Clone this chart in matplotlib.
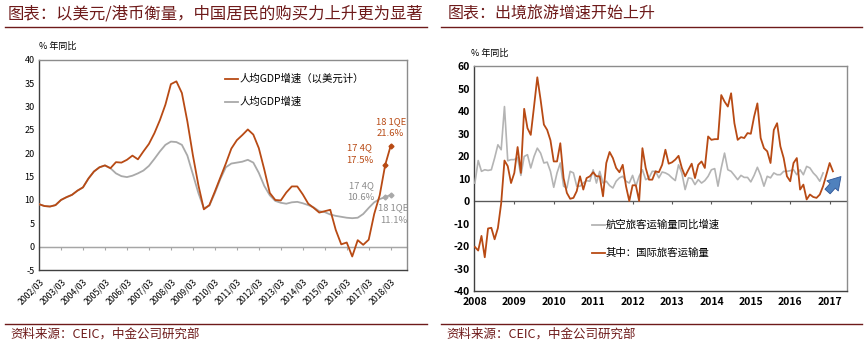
import numpy as np
import matplotlib.pyplot as plt

plt.rcParams["font.family"] = ["Noto Sans CJK SC", "DejaVu Sans"]
plt.rcParams["axes.unicode_minus"] = False

DARK_RED = "#6E1A1A"
ORANGE = "#B84A14"
GRAY = "#A9A9A9"

# 左图：季度数据 2002Q1 - 2018Q1
gdp_usd = [9.1, 8.7, 8.6, 8.9, 10.0, 10.6, 11.1, 12.0, 12.7, 14.6, 16.1, 17.0, 17.4, 16.8,
           18.1, 18.0, 18.6, 19.5, 18.7, 20.4, 22.0, 24.3, 27.1, 30.4, 34.8, 35.4, 32.9, 26.8,
           19.6, 13.2, 8.0, 8.9, 11.8, 14.8, 17.8, 21.0, 22.8, 23.9, 25.1, 24.0, 21.1, 16.5,
           11.5, 10.0, 9.9, 11.6, 12.9, 12.9, 11.2, 9.2, 8.3, 7.3, 7.6, 7.9, 3.6, 0.5,
           0.9, -2.1, 1.4, 0.4, 1.5, 7.0, 11.0, 17.5, 21.6]
gdp = [9.1, 8.7, 8.6, 8.9, 10.0, 10.6, 11.1, 12.0, 12.7, 14.6, 16.1, 17.0, 17.4, 16.8,
       15.7, 15.1, 14.9, 15.2, 15.7, 16.3, 17.3, 18.8, 20.4, 21.8, 22.5, 22.4, 21.8, 19.5,
       15.5, 11.5, 8.2, 8.8, 11.5, 14.5, 17.0, 17.8, 18.0, 18.2, 18.6, 18.0, 15.8, 13.0,
       11.0, 9.8, 9.4, 9.2, 9.5, 9.6, 9.3, 8.9, 8.4, 7.6, 7.4, 6.9, 6.6, 6.4,
       6.2, 6.1, 6.2, 7.0, 8.3, 9.5, 10.2, 10.6, 11.1]
quarter_labels = [f"{y}/03" for y in range(2002, 2019)]

# 右图：月度数据 2008/01 起
intl_pax = [-20.4, -22, -15.5, -25, -12.2, -11.9, -17, -12, -1, 18,
            15.5, 8, 12.5, 24, 12.5, 41, 32.4, 29.4, 42, 55,
            45, 34, 31.6, 27, 17.6, 17.6, 25.7, 10.2, 3.6, 1,
            1.4, 4.4, 11, 5.1, 10.2, 11, 12.8, 11, 11, 2.1,
            16.9, 21.8, 19.1, 14.7, 12.8, 16.1, 6.6, 0, 7, 7,
            0, 23.5, 14.7, 9.5, 9.5, 13.2, 12.8, 16.1, 22.8, 16.6,
            17.2, 18.4, 20.1, 14.7, 11, 13.9, 16.6, 10.2, 16.1, 17.6,
            14.7, 28.7, 27.2, 27.5, 27.5, 47.1, 44.2, 42, 47.9, 34.6,
            27.2, 28.4, 28, 30.2, 29.9, 37.5, 43.4, 28, 23.5, 22.1,
            16.9, 31.6, 34.6, 24.3, 19.1, 11, 8.8, 16.9, 19.1, 5.1,
            7.3, 0.7, 2.9, 1.8, 1.4, 2.9, 6.6, 11.7, 16.9, 13.2]
air_pax = [8, 18, 13.2, 13.9, 13.6, 13.9, 19.1, 25, 22.8, 42,
           17.9, 18.4, 18.4, 19.4, 11.4, 19.8, 20.6, 14.7, 19.8, 23.5,
           21.3, 16.9, 17.3, 13.2, 6.1, 12.5, 16.9, 6.6, 5.8, 13.2,
           12.5, 6.6, 6.6, 8.0, 9.1, 8.8, 13.9, 8, 13.2, 8,
           8.8, 6.9, 5.8, 8.8, 10.3, 11, 8.8, 8, 11.4, 6.6,
           11, 13.9, 9.5, 10.3, 13.2, 13.2, 10.3, 12.9, 12.5, 11.7,
           10.3, 9.1, 16.1, 12.5, 5.1, 10.3, 10, 7.3, 9.5, 8,
           9.1, 11, 13.9, 14.4, 6.6, 14.7, 21.3, 13.9, 13.2, 11.4,
           9.5, 11.4, 10.5, 10.5, 8.5, 11.4, 15, 11.4, 6.6, 11,
           10.3, 12.5, 11.7, 11.7, 13.2, 13.2, 13.5, 13.9, 11.7, 13.9,
           11.7, 15.4, 14.7, 12.5, 11, 8.8, 12.5]
years = list(range(2008, 2018))

fig = plt.figure(figsize=(8.67, 3.44), dpi=100)

# 标题与装饰线
fig.text(0.009, 0.959, "图表：以美元/港币衡量，中国居民的购买力上升更为显著",
         color=DARK_RED, fontsize=11.8, va="center", ha="left")
fig.text(0.516, 0.959, "图表：出境旅游增速开始上升",
         color=DARK_RED, fontsize=11.5, va="center", ha="left")
for x0, x1 in [(0.006, 0.493), (0.509, 0.994)]:
    fig.add_artist(plt.Line2D([x0, x1], [0.921, 0.921], color=DARK_RED, lw=1.0))
    fig.add_artist(plt.Line2D([x0, x1], [0.058, 0.058], color=DARK_RED, lw=1.0))
fig.text(0.012, 0.028, "资料来源：CEIC，中金公司研究部", color=DARK_RED, fontsize=9,
         va="center", ha="left", style="italic")
fig.text(0.515, 0.028, "资料来源：CEIC，中金公司研究部", color=DARK_RED, fontsize=9,
         va="center", ha="left", style="italic")


def style_box(ax):
    for s in ["top", "right"]:
        ax.spines[s].set_color("#8C8C8C")
    for s in ["left", "bottom"]:
        ax.spines[s].set_color("#404040")
    for s in ax.spines.values():
        s.set_linewidth(1.0)


# ---- 左图 ----
ax1 = fig.add_axes([0.045, 0.215, 0.424, 0.611])
q = np.arange(len(gdp))
ax1.plot(q, gdp, color=GRAY, lw=1.3, zorder=3)
ax1.plot(q, gdp_usd, color=ORANGE, lw=1.3, zorder=4)
ax1.plot(q[-2:], gdp[-2:], ls="none", marker="D", ms=2.5, color=GRAY, zorder=5)
ax1.plot(q[-2:], gdp_usd[-2:], ls="none", marker="D", ms=2.5, color=ORANGE, zorder=5)
ax1.set_xlim(0, 66.9)
ax1.set_ylim(-5, 40)
ax1.set_yticks(range(-5, 41, 5))
ax1.tick_params(axis="y", length=0, labelsize=6.5, pad=3)
ax1.set_xticks(q[::4])
ax1.set_xticklabels(quarter_labels, rotation=45, ha="right", rotation_mode="anchor")
ax1.tick_params(axis="x", length=0, labelsize=6.3, pad=5)
style_box(ax1)
ax1.axhline(0, color="#A6A6A6", lw=1.0, zorder=2)
sec1 = ax1.secondary_xaxis(5 / 45)
sec1.set_xticks(q[::4])
sec1.set_xticklabels([])
sec1.tick_params(axis="x", direction="out", length=2.5, color="#A6A6A6")
sec1.spines["bottom"].set_color("#A6A6A6")
ax1.text(0.0, 1.045, "% 年同比", transform=ax1.transAxes, fontsize=6.5, ha="left", va="bottom")

ax1.plot([0.505, 0.54], [0.91, 0.91], transform=ax1.transAxes, color=ORANGE, lw=1.3)
ax1.text(0.545, 0.91, "人均GDP增速（以美元计）", transform=ax1.transAxes, fontsize=7.5, va="center")
ax1.plot([0.505, 0.54], [0.80, 0.80], transform=ax1.transAxes, color=GRAY, lw=1.3)
ax1.text(0.545, 0.80, "人均GDP增速", transform=ax1.transAxes, fontsize=7.5, va="center")

ax1.text(64.0, 25.5, "18 1QE\n21.6%", color=ORANGE, fontsize=6.8, ha="center", va="center",
         linespacing=1.5)
ax1.text(58.3, 19.8, "17 4Q\n17.5%", color=ORANGE, fontsize=6.8, ha="center", va="center",
         linespacing=1.5)
ax1.text(58.6, 11.8, "17 4Q\n10.6%", color="#8C8C8C", fontsize=6.8, ha="center", va="center",
         linespacing=1.5)
ax1.text(64.5, 7.0, "18 1QE\n11.1%", color="#8C8C8C", fontsize=6.8, ha="center", va="center",
         linespacing=1.5)

# ---- 右图 ----
ax2 = fig.add_axes([0.547, 0.154, 0.430, 0.654])
m_air = np.arange(len(air_pax))
m_intl = np.arange(len(intl_pax))
ax2.plot(m_air, air_pax, color="#B4B4B4", lw=1.2, zorder=3)
ax2.plot(m_intl, intl_pax, color=ORANGE, lw=1.3, zorder=4)
ax2.set_xlim(-0.2, 113.3)
ax2.set_ylim(-40, 60)
ax2.set_yticks(range(-40, 61, 10))
ax2.tick_params(axis="y", length=0, labelsize=7.5, pad=3)
year_pos = np.arange(len(years)) * 12
ax2.set_xticks(year_pos)
ax2.set_xticklabels([str(y) for y in years])
ax2.tick_params(axis="x", length=0, labelsize=7.5, pad=4)
for lab in ax2.get_xticklabels() + ax2.get_yticklabels():
    lab.set_fontweight("bold")
style_box(ax2)
ax2.axhline(0, color="#595959", lw=0.9, zorder=2)
sec2 = ax2.secondary_xaxis(0.4)
sec2.set_xticks(year_pos[1:])
sec2.set_xticklabels([])
sec2.tick_params(axis="x", direction="out", length=2.5, color="#595959")
sec2.spines["bottom"].set_color("#595959")
ax2.text(-0.01, 1.035, "% 年同比", transform=ax2.transAxes, fontsize=6.5, ha="left", va="bottom")

ax2.plot([0.317, 0.35], [0.295, 0.295], transform=ax2.transAxes, color="#B4B4B4", lw=1.3)
ax2.text(0.352, 0.295, "航空旅客运输量同比增速", transform=ax2.transAxes, fontsize=7.5, va="center")
ax2.plot([0.317, 0.35], [0.17, 0.17], transform=ax2.transAxes, color=ORANGE, lw=1.3)
ax2.text(0.352, 0.17, "其中：国际旅客运输量", transform=ax2.transAxes, fontsize=7.5, va="center")

ax2.annotate("", xy=(112.0, 11.8), xytext=(106.8, 3.3),
             arrowprops=dict(arrowstyle="simple,head_width=1.1,head_length=0.9,tail_width=0.5",
                             fc="#4F81BD", ec="#2F5597", lw=0.6, mutation_scale=10))

fig.savefig("out.png", dpi=100)
